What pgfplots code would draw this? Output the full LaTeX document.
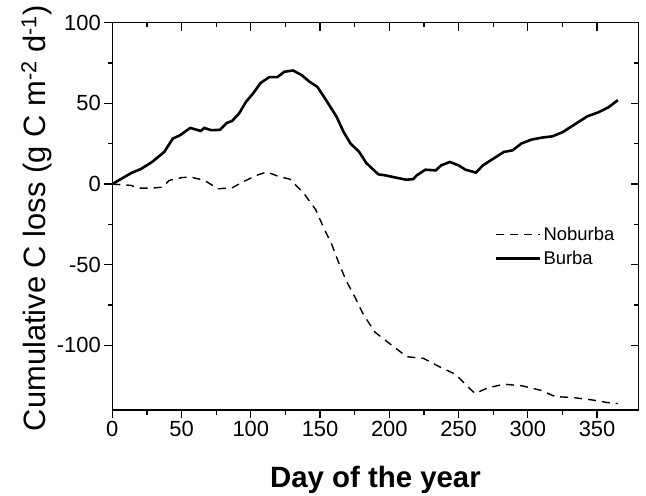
\documentclass[border=0pt]{standalone}
\usepackage{fontspec}
\setmainfont{Liberation Sans}
\usepackage{pgfplots}
\pgfplotsset{compat=1.18}
\usepackage{pgfplotstable}

\pgfplotstableread{
day val
0 0
13.6 6.8
21 9.5
28.7 13.7
37.5 19.9
43.7 28.2
48.8 30.2
56.3 34.8
63.9 32.9
66.4 34.8
71.4 33.4
77.7 33.6
82.7 37.9
86.5 39.1
91.5 43.7
96.5 50.9
101.6 56.1
107.1 62.7
113.4 66.3
119.2 66.3
124.2 69.6
130.5 70.4
136.8 67.5
141.8 63.8
148.1 60.2
154.4 52
162 41.6
167 32.3
172 25.1
178.3 19.9
183.4 13
192.2 6
197.2 5.4
204.7 4
212.3 2.7
217.3 3.1
219.8 5.4
226.1 8.9
233.6 8.5
237.4 11.6
243.7 13.7
250 11.6
255 8.9
262.6 7.1
267.6 11.6
275.2 15.8
282.7 19.9
289 20.9
295.3 25.1
302.8 27.6
310.3 28.8
317.9 29.6
325.4 32.3
333 36.5
343 42
350.5 44.3
358.1 47.5
365 52
}\burba

\pgfplotstableread{
day val
0 0
13.6 -0.8
18.6 -2.5
28.7 -2.5
36.2 -1.9
41.2 2.3
50 4
56.3 4.4
66.4 2.3
76.5 -2.9
86.5 -2.3
94 1.2
104.1 5.4
111.6 7.5
119.2 5
128.4 3
138.5 -6
146.9 -15.9
152.4 -26.7
158.5 -37.5
163.3 -48.4
168.8 -59.8
175.3 -70.2
181.3 -80.9
189.8 -91.9
200.6 -99.1
212.7 -107
224.7 -108
236.2 -113.2
247.6 -117.8
258.4 -127
262 -129.8
270.5 -126.5
282.5 -124
295.8 -125
309 -127.7
319.9 -131.7
333 -132.3
347.5 -133.9
359.6 -135.7
365 -136
}\noburba

\begin{document}
\begin{tikzpicture}
\pgfplotsset{
  common/.style={
    scale only axis, width=526.3bp, height=387.3bp,
    xmin=0, xmax=380, ymin=-140, ymax=100,
    xtick={0,50,...,350}, ytick={-100,-50,0,50,100},
    minor x tick num=1, minor y tick num=1,
    major tick length=8bp, minor tick length=4.5bp,
    axis line style={line width=1.3bp},
    every tick/.style={line width=1.3bp, black},
  }
}
\begin{axis}[common,
  xtick pos=bottom, ytick pos=left, tick align=outside,
  /pgf/number format/assume math mode=true,
  tick label style={font=\fontsize{22}{24}\selectfont},
  xlabel={\textbf{Day of the year}},
  ylabel={Cumulative C loss (g C m\textsuperscript{-2} d\textsuperscript{-1})},
  xlabel style={font=\fontsize{29.5}{32}\selectfont, at={(axis description cs:0.5,0)}, anchor=base, yshift=-77bp},
  ylabel style={font=\fontsize{31}{33}\selectfont, at={(axis description cs:-0.127,0.495)}, anchor=base, rotate=0},
  legend style={draw=none, fill=none, font=\fontsize{18.5}{20}\selectfont,
    at={(axis cs:274,-24)}, anchor=north west, row sep=5bp,
    /tikz/every even column/.append style={column sep=5bp}},
  legend cell align=left,
  legend image code/.code={\draw[#1] (0cm,0cm) -- (44bp,0cm);},
]
\addplot[black, line width=1.4bp, dash pattern=on 8bp off 6bp] table[x=day,y=val] {\noburba};
\addlegendentry{Noburba}
\addplot[black, line width=2.6bp] table[x=day,y=val] {\burba};
\addlegendentry{Burba}
\end{axis}
\begin{axis}[common,
  xtick pos=top, ytick pos=right, tick align=inside,
  xticklabels={}, yticklabels={},
]
\addplot[draw=none] coordinates {(0,0)};
\end{axis}
\pgfresetboundingbox
\path (-112.3bp,-86bp) rectangle (533.7bp,410bp);
\end{tikzpicture}
\end{document}
